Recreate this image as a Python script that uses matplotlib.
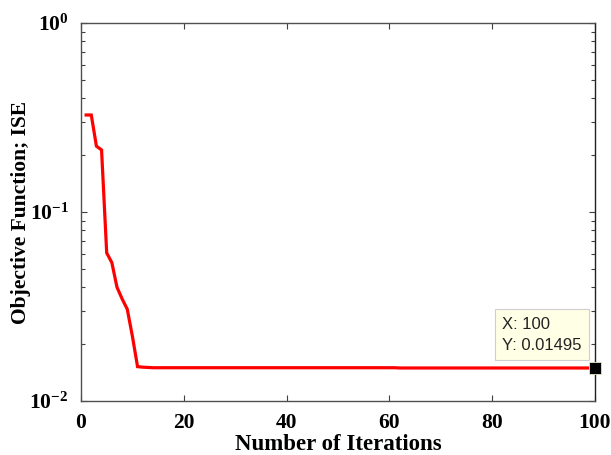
import matplotlib.pyplot as plt
from matplotlib.ticker import FuncFormatter, LogLocator, MultipleLocator
import numpy as np

plt.rcParams['font.family'] = 'Liberation Serif'
plt.rcParams['mathtext.fontset'] = 'custom'
plt.rcParams['mathtext.rm'] = 'Liberation Serif:bold'
plt.rcParams['mathtext.bf'] = 'Liberation Serif:bold'
plt.rcParams['mathtext.it'] = 'Liberation Serif:bold'

# best ISE found per iteration
iterations = list(range(1, 101))
ise_head = [0.326, 0.326, 0.223, 0.213, 0.0607, 0.054, 0.040, 0.0347,
            0.0306, 0.0220, 0.0152, 0.0151, 0.01505]
ise_mid = [0.01500] * 48       # iterations 14..61
ise_tail = [0.01495] * 39      # iterations 62..100
ise = ise_head + ise_mid + ise_tail

final_x = 100
final_y = 0.01495

fig = plt.figure(figsize=(6.11, 4.55), dpi=100)
ax = fig.add_axes([81/611, 1 - 401/455, 514/611, 378/455])

ax.plot(iterations, ise, color='red', linewidth=2.3, solid_joinstyle='miter')
ax.plot([final_x], [final_y], marker='s', markersize=8, color='black',
        mec='#e8e8c8', mew=0.6, linestyle='none', clip_on=False, zorder=5)

ax.set_yscale('log')
ax.set_xlim(0, 100)
ax.set_ylim(1e-2, 1)

ax.xaxis.set_major_locator(MultipleLocator(20))
ax.yaxis.set_major_locator(LogLocator(base=10))
ax.yaxis.set_minor_locator(LogLocator(base=10, subs=np.arange(2, 10)))
ax.yaxis.set_major_formatter(
    FuncFormatter(lambda v, p: r'$10^{%d}$' % int(round(np.log10(v)))))

ax.tick_params(which='both', direction='in', top=True, right=True,
               colors='#404040', labelcolor='black')
ax.tick_params(which='major', length=4, labelsize=15.5, width=0.8)
ax.tick_params(axis='x', which='major', pad=9)
ax.tick_params(axis='y', which='major', pad=9)
ax.tick_params(which='minor', length=3, width=0.8)
for lbl in ax.get_xticklabels():
    lbl.set_fontweight('bold')
for s in ax.spines.values():
    s.set_color('#505050')
    s.set_linewidth(1.0)
ax.spines['right'].set_color('#202020')

ax.set_xlabel('Number of Iterations', fontsize=16.5, fontweight='bold', labelpad=0)
ax.set_ylabel('Objective Function; ISE', fontsize=15.5, fontweight='bold', labelpad=-1)

# data tip
ax.annotate(f'X: {final_x}\nY: {final_y}', xy=(final_x, final_y),
            xytext=(-93, 15), textcoords='offset pixels', ha='left', va='bottom',
            family='Liberation Sans', fontsize=12, linespacing=1.5, color='#222222',
            bbox=dict(boxstyle='square,pad=0.45', fc='#ffffe6', ec='#cfcfcf', lw=0.8))

fig.savefig('out.png', dpi=100)
